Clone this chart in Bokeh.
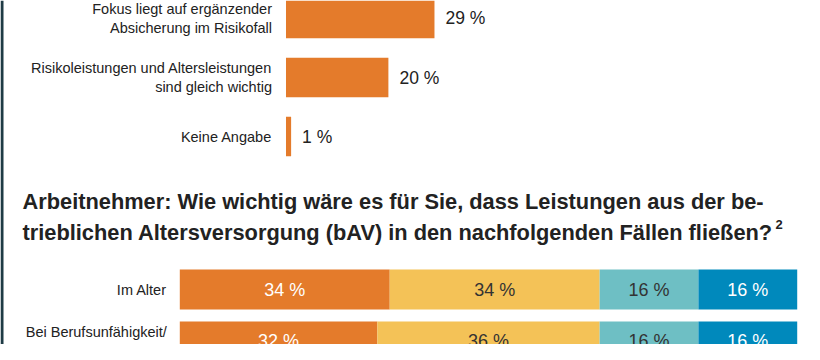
from bokeh.plotting import figure
from bokeh.models import Range1d, Label, ColumnDataSource, BoxAnnotation
from bokeh.core.properties import value
from bokeh.embed import file_html
from bokeh.resources import INLINE

# ---- data ----
top_categories = [
    "Fokus liegt auf ergänzender\nAbsicherung im Risikofall",
    "Risikoleistungen und Altersleistungen\nsind gleich wichtig",
    "Keine Angabe",
]
top_values = [29, 20, 1]

title_line1 = "Arbeitnehmer: Wie wichtig wäre es für Sie, dass Leistungen aus der be-"
title_line2 = "trieblichen Altersversorgung (bAV) in den nachfolgenden Fällen fließen?"
title_note = "2"

stack_categories = ["Im Alter", "Bei Berufsunfähigkeit/\nErwerbsminderung"]
sehr_wichtig = [34, 32]
eher_wichtig = [34, 36]
eher_unwichtig = [16, 16]
unwichtig = [16, 16]

# ---- styles ----
FONT = "Liberation Sans"
ORANGE = "#E47B2B"
YELLOW = "#F4C257"
TEAL = "#6EBFC4"
BLUE = "#0089BC"
TEXT = "#222222"
FRAME = "#1F3B45"

p = figure(width=804, height=344, output_backend="svg", toolbar_location=None,
           x_range=Range1d(-55.76, 101.27), y_range=Range1d(5.525, -0.305),
           x_axis_type=None, y_axis_type=None, min_border=0)
p.grid.visible = False
p.outline_line_color = None
p.background_fill_color = "white"
p.border_fill_color = "white"
p.extra_x_ranges = {"stack": Range1d(-29.04, 101.18)}
p.extra_y_ranges = {"stack": Range1d(1.0577, -5.558)}

# dark frame line on the left edge
p.add_layout(BoxAnnotation(left=0, right=3, left_units="screen", right_units="screen",
                           fill_color=FRAME, fill_alpha=1.0, line_color=None))

# ---- top chart ----
top_rows = list(range(len(top_categories)))
top_src = ColumnDataSource(dict(
    y=top_rows, v=top_values, cat=top_categories,
    lab=[f"{v} %" for v in top_values],
))
p.hbar(y="y", left=0, right="v", height=0.666, source=top_src,
       fill_color=ORANGE, line_color=None)
p.text(x=0, y="y", text="cat", source=top_src, x_offset=-14,
       text_align="right", text_baseline="middle", text_font=value(FONT),
       text_font_size="14.5px", text_color=TEXT, text_line_height=1.17)
p.text(x="v", y="y", text="lab", source=top_src, x_offset=11,
       text_align="left", text_baseline="middle", text_font=value(FONT),
       text_font_size="17.5px", text_color=TEXT)

# ---- title ----
for txt, yy in [(title_line1, 143), (title_line2, 112)]:
    p.add_layout(Label(x=22, y=yy, x_units="screen", y_units="screen", text=txt,
                       text_font=FONT, text_font_size="21.8px", text_font_style="bold",
                       text_color=TEXT, text_baseline="alphabetic"))
p.add_layout(Label(x=775, y=120, x_units="screen", y_units="screen", text=title_note,
                   text_font=FONT, text_font_size="13px", text_font_style="bold",
                   text_color=TEXT, text_baseline="alphabetic"))

# ---- stacked chart ----
stack_rows = list(range(len(stack_categories)))
series = [
    (sehr_wichtig, ORANGE, "white"),
    (eher_wichtig, YELLOW, "#333333"),
    (eher_unwichtig, TEAL, "#333333"),
    (unwichtig, BLUE, "white"),
]
left = [0] * len(stack_categories)
for vals, col, tcol in series:
    right = [l + v for l, v in zip(left, vals)]
    src = ColumnDataSource(dict(
        y=stack_rows, left=left, right=right,
        mid=[(l + r) / 2 for l, r in zip(left, right)],
        lab=[f"{v} %" for v in vals],
    ))
    p.hbar(y="y", left="left", right="right", height=0.769, source=src,
           fill_color=col, line_color=None,
           x_range_name="stack", y_range_name="stack")
    p.text(x="mid", y="y", text="lab", source=src, text_align="center",
           text_baseline="middle", text_font=value(FONT), text_font_size="18px",
           text_color=tcol, x_range_name="stack", y_range_name="stack")
    left = right

stack_src = ColumnDataSource(dict(y=stack_rows, cat=stack_categories))
p.text(x=0, y="y", text="cat", source=stack_src, x_offset=-13,
       text_align="right", text_baseline="middle", text_font=value(FONT),
       text_font_size="14.5px", text_color=TEXT, text_line_height=1.2,
       x_range_name="stack", y_range_name="stack")

open("out.html", "w").write(file_html(p, INLINE))
